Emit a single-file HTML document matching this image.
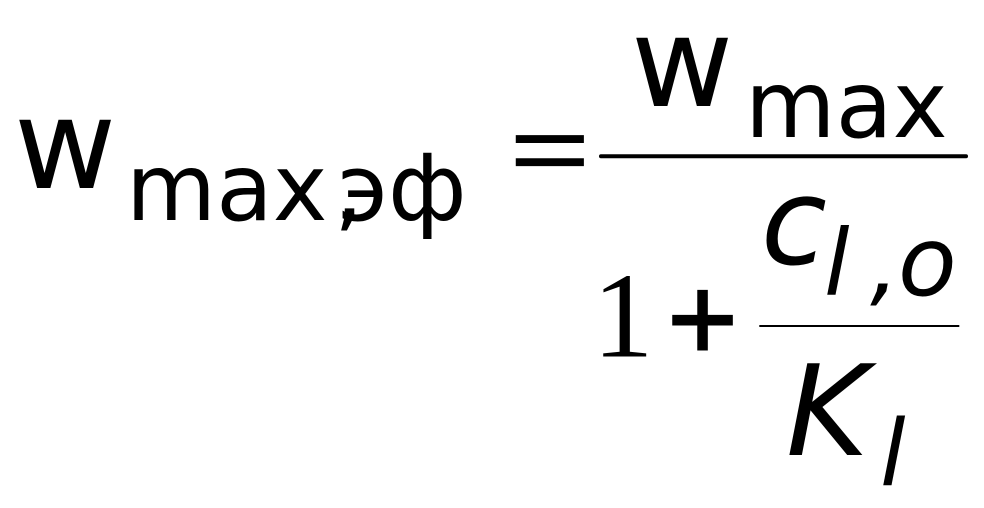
<!DOCTYPE html>
<html>
<head>
<meta charset="utf-8">
<style>
html,body{margin:0;padding:0;background:#fff;width:984px;height:508px;overflow:hidden}
svg{display:block}
text{font-family:"DejaVu Sans",sans-serif;fill:#000}
.i{font-style:italic}
</style>
</head>
<body>
<svg width="984" height="508" viewBox="0 0 984 508" xmlns="http://www.w3.org/2000/svg">
<text x="14" y="188" font-size="125">w</text>
<text x="126" y="220" font-size="92.5">max</text>
<text x="334" y="220" font-size="92">,</text>
<text x="337.5" y="220" font-size="92">эф</text>
<text transform="translate(510 189) scale(1 .82)" x="0" y="0" font-size="141" stroke="#000" stroke-width="2.5" style="font-family:'Liberation Serif',serif">=</text>
<text x="631" y="106" font-size="125">w</text>
<text x="745" y="137" font-size="93">max</text>
<rect x="599" y="154.3" width="369" height="4" rx="2"/>
<text x="592.5" y="356.7" font-size="122" style="font-family:'Liberation Serif',serif">1</text>
<text x="664" y="349" font-size="92" stroke="#000" stroke-width="3">+</text>
<text x="761" y="264" font-size="120" class="i">c</text>
<text x="824" y="295" font-size="92" class="i">l</text>
<text x="870" y="295" font-size="92" class="i">,</text>
<text x="898" y="295" font-size="96" class="i">o</text>
<rect x="759.3" y="325" width="200" height="2"/>
<text x="786" y="455" font-size="126" class="i">K</text>
<text x="880" y="485.7" font-size="92" class="i">l</text>
</svg>
</body>
</html>
